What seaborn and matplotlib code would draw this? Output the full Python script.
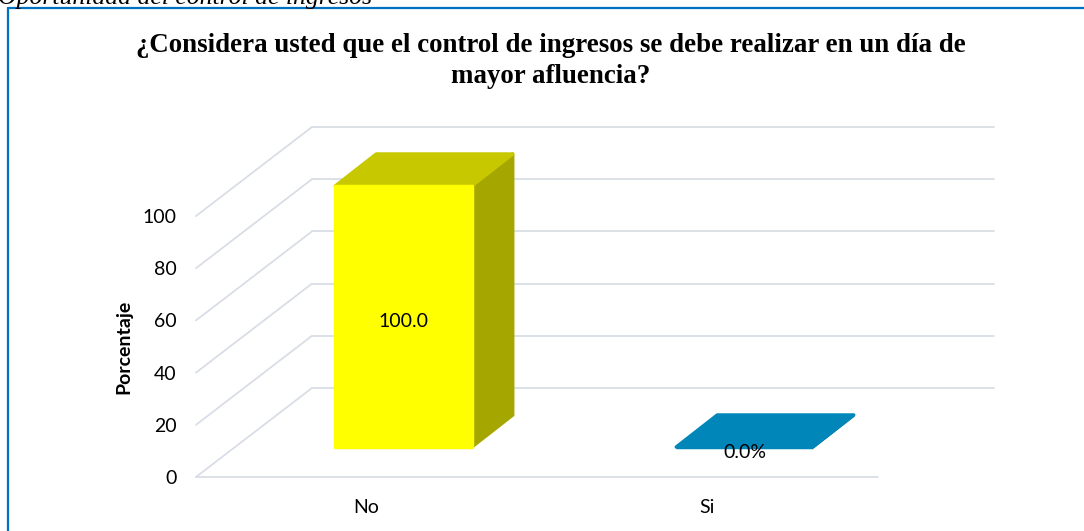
import numpy as np
import pandas as pd
import matplotlib
matplotlib.use("Agg")
import matplotlib.pyplot as plt
import matplotlib.transforms as mtransforms
from matplotlib.patches import Polygon
from matplotlib.lines import Line2D
import seaborn as sns

# ---------------- data ----------------
categories = ["No", "Si"]
values = [100.0, 0.0]
value_labels = ["100.0", "0.0%"]
yticks = [0, 20, 40, 60, 80, 100]
title = "¿Considera usted que el control de ingresos se debe realizar en un día de\nmayor afluencia?"
caption = "Oportunidad del control de ingresos"
ylabel = "Porcentaje"

front_colors = ["#FFFF00", "#0086B9"]
top_colors = ["#C8C800", "#0086B9"]
side_colors = ["#A6A600", "#006A93"]

# ---------------- style ----------------
sns.set_theme(style="white")
plt.rcParams['font.family'] = ['Lato', 'DejaVu Sans']

W, H = 1084, 531
DPI = 100
fig = plt.figure(figsize=(W / DPI, H / DPI), dpi=DPI)
fig.patch.set_facecolor('white')

ax = fig.add_axes([196 / W, 1 - 477 / H, 682 / W, 261 / H])
df = pd.DataFrame({"cat": categories, "val": values})
sns.barplot(data=df, x="cat", y="val", hue="cat", palette=front_colors,
            width=0.4, ax=ax, legend=False, saturation=1)
ax.set_xlim(-0.5, 1.5)
ax.set_ylim(0, 100)
ax.patch.set_alpha(0)
for s in ax.spines.values():
    s.set_visible(False)
ax.set_yticks(yticks)
ax.tick_params(axis='y', length=0, pad=14, labelsize=14, labelcolor='black')
ax.tick_params(axis='x', length=0, pad=16, labelsize=14, labelcolor='black')
ax.set_xlabel("")
ax.set_ylabel("")

ident = mtransforms.IdentityTransform()

def shift(dx, dy):
    return mtransforms.ScaledTranslation(dx / DPI, dy / DPI, fig.dpi_scale_trans)

# ---------------- 3D walls / grid ----------------
back = ax.transData + shift(116, 89)
x0, x1 = ax.get_xlim()
grid_kw = dict(color="#D9DEE6", linewidth=1.3, clip_on=False, zorder=0.5)
for v in yticks:
    ax.plot([x0, x1], [v, v], transform=back, **grid_kw)
    a = ax.transData.transform((x0, v))
    b = back.transform((x0, v))
    ax.add_line(Line2D([a[0], b[0]], [a[1], b[1]], transform=ident, **grid_kw))
ax.plot([x0, x1], [0, 0], transform=ax.transData, **grid_kw)

# ---------------- 3D bars ----------------
front = ax.transData + shift(37, 30)
depth = np.array([41, 32])
for i, p in enumerate(ax.patches):
    xb, w, h = p.get_x(), p.get_width(), p.get_height()
    p.set_transform(front)
    p.set_edgecolor(front_colors[i])
    p.set_linewidth(2.5)
    p.set_joinstyle('round')
    p.set_zorder(3)
    p.set_clip_on(False)
    ftl = front.transform((xb, h))
    ftr = front.transform((xb + w, h))
    fbr = front.transform((xb + w, 0))
    side = Polygon([fbr, ftr, ftr + depth, fbr + depth], closed=True,
                   transform=ident, facecolor=side_colors[i], edgecolor=side_colors[i],
                   linewidth=2.5, joinstyle='round', zorder=2, clip_on=False)
    top = Polygon([ftl, ftr, ftr + depth, ftl + depth], closed=True,
                  transform=ident, facecolor=top_colors[i], edgecolor=top_colors[i],
                  linewidth=2.5, joinstyle='round', zorder=2.5, clip_on=False)
    ax.add_patch(side)
    ax.add_patch(top)
    ax.text(xb + w / 2, h / 2, value_labels[i], transform=front + shift(0, -5),
            ha='center', va='center', fontsize=14, color='black', zorder=5)

# ---------------- texts ----------------
fig.text(124 / W, 1 - 347 / H, ylabel, rotation=90, ha='center', va='center',
         fontsize=14, fontweight='bold', color='black')
fig.text(551 / W, 1 - 33 / H, title, ha='center', va='top', fontsize=19.4,
         fontweight='bold', family=['Liberation Serif', 'DejaVu Serif'],
         linespacing=1.3, color='black')
fig.text(-2 / W, 1 - 4 / H, caption, ha='left', va='baseline', fontsize=18.5,
         style='italic', family=['Liberation Serif', 'DejaVu Serif'], color='black')

# border
fig.add_artist(Line2D([8 / W, 8 / W], [1 - 8 / H, 0], transform=fig.transFigure,
                      color='#0070C0', linewidth=1.6))
fig.add_artist(Line2D([8 / W, 1], [1 - 8 / H, 1 - 8 / H], transform=fig.transFigure,
                      color='#0070C0', linewidth=1.6))

fig.savefig('out.png', dpi=DPI)
